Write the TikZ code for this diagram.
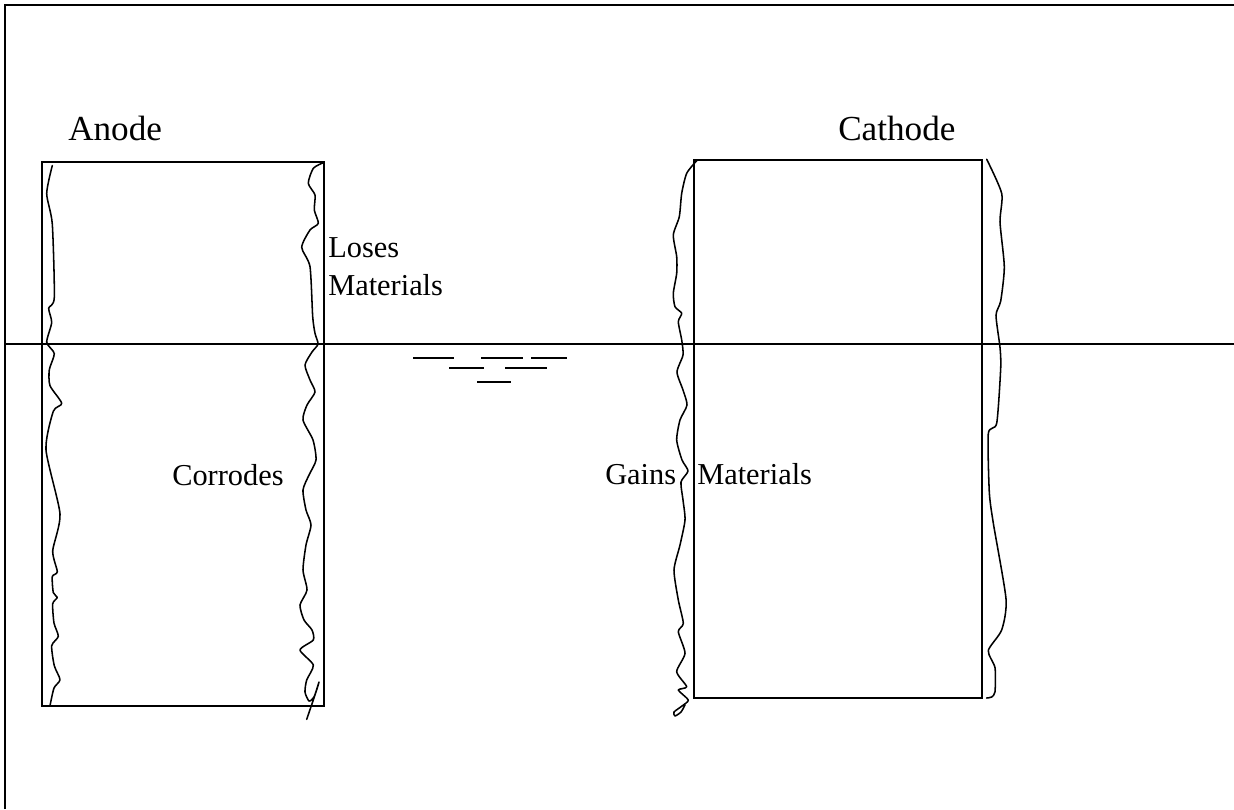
\documentclass[tikz,border=0pt]{standalone}
\usepackage{fontspec}
\setmainfont{Liberation Serif}
\begin{document}
\begin{tikzpicture}[
    x=0.025cm, y=-0.025cm,
    frame/.style={line width=1.6pt},
    plate/.style={line width=1.4pt},
    rough/.style={line width=1.1pt, line join=round, line cap=round},
    ripple/.style={line width=1.6pt},
    big/.style={font=\fontsize{25}{30}\selectfont, inner sep=0pt, anchor=base west},
    small/.style={font=\fontsize{21.6}{26}\selectfont, inner sep=0pt, anchor=base west}
]
    \useasboundingbox (0,0) rectangle (1234,809);

    \draw[frame] (5,809) -- (5,5) -- (1234,5);
    \draw[frame] (5,344) -- (1234,344);

    \draw[ripple] (413,358) -- (454,358);
    \draw[ripple] (481,358) -- (523,358);
    \draw[ripple] (531,358) -- (567,358);
    \draw[ripple] (449,368) -- (484,368);
    \draw[ripple] (505,368) -- (547,368);
    \draw[ripple] (477,382) -- (511,382);

    \draw[plate] (42,162) rectangle (324,706);
    \draw[plate] (694,160) rectangle (982,698);

    \draw[rough] plot[smooth, tension=0.4] coordinates {
        (52.3,165.6) (46.7,193.5) (52.3,224) (54.3,297.4) (48.7,308.2)
        (51.7,322.5) (46.7,342.2) (54.3,353.6) (49.3,369.7) (50,385.7)
        (61.7,403.3) (53.3,411.3) (46,449.8) (60,514) (52.7,550.9)
        (57.3,571.7) (52.3,576.5) (53.3,592.6) (57.3,597.4) (52.7,603.8)
        (54,623) (58.3,636.3) (51.7,645.7) (54.3,665.7) (60,679.7)
        (54,688) (50,705.7)};
    \draw[rough] plot[smooth, tension=0.4] coordinates {
        (323.3,162.7) (313.3,168.3) (308.3,183.3) (315,195) (314.3,210)
        (318.3,223.3) (310,230) (301.7,247.3) (310,266.7) (312.7,316.7)
        (315,333.3) (318,344) (312,352) (305,365) (310,380) (315,392)
        (307,405) (303,420) (313,440) (316,460) (309,475) (303,490)
        (306,510) (311,525) (306,545) (303,570) (307,590) (300,605)
        (304,620) (312,630) (313.3,640) (300,650) (313.3,665) (306.7,680)
        (305,692) (309,701) (314,697) (319,682) (316,692) (306.7,719.3)};
    \draw[rough] plot[smooth, tension=0.4] coordinates {
        (696.7,160.7) (686.7,173.3) (681.7,193.3) (679.3,216.7) (673.3,235)
        (676.7,256.7) (676.7,273.3) (673.3,293.3) (675,306.7) (681.7,313.3)
        (678.3,321.7) (681.7,340) (683,355) (677,372) (683,390) (687,405)
        (680,420) (676.7,440) (682,460) (688,471) (681,482) (683,500)
        (685,520) (680,545) (674,570) (678.3,600) (683.3,623.3) (678.3,631.7)
        (685,653.3) (676.7,671.7) (686.7,686.7) (678.3,690) (688.3,700)
        (682,706) (674,712) (675,716) (681,712) (685,705)};
    \draw[rough] plot[smooth, tension=0.4] coordinates {
        (986.7,159.3) (1001.7,193.4) (1000,222) (1004.3,266.9) (1000.7,301)
        (996,315.3) (1000,347.4) (1000.7,368.1) (996.7,423.2) (988.3,433.5)
        (989.3,492.1) (993.3,523.1) (1006,598.9) (1001.7,629.9) (988.3,650.5)
        (995,667.7) (995,691.8) (991.7,697) (986.7,698)};

    \node[big] (anode) at (68,140) {Anode};
    \node[big] (cathode) at (838,140) {Cathode};
    \node[small] (loses) at (328,257) {Loses};
    \node[small] (lostmat) at (328,295) {Materials};
    \node[small] (corrodes) at (172,485) {Corrodes};
    \node[small] (gains) at (605,484) {Gains};
    \node[small] (gainmat) at (697,484) {Materials};
\end{tikzpicture}
\end{document}
